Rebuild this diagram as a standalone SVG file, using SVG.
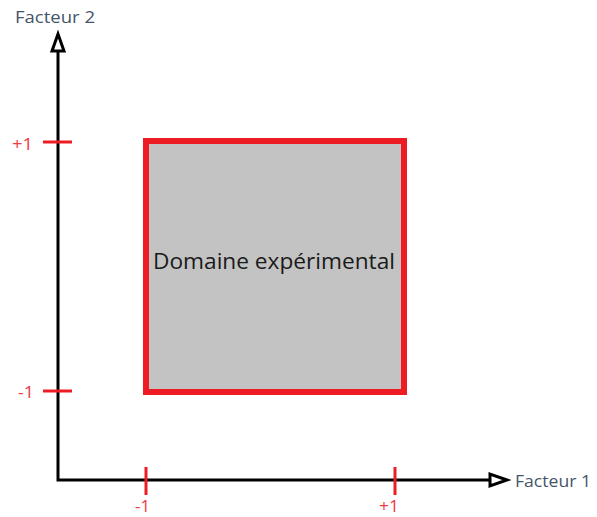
<svg xmlns="http://www.w3.org/2000/svg" width="597" height="517" viewBox="0 0 597 517">
<style>
.axis{stroke:#000;stroke-width:3;fill:none}
.head{stroke:#000;stroke-width:3;fill:#fff;stroke-linejoin:miter}
.tick{stroke:#ED1C24;stroke-width:3}
.lbl{font-family:"Open Sans","Liberation Sans",sans-serif;font-size:16px;fill:#EE3A46}
.ax{font-family:"Open Sans","Liberation Sans",sans-serif;font-size:16px;fill:#44546A}
</style>
<rect width="597" height="517" fill="#fff"/>
<g id="domain">
<rect x="146" y="141" width="258" height="251" fill="#C3C3C3" stroke="#ED1C24" stroke-width="6"/>
<text x="153" y="269" font-family="Open Sans, Liberation Sans, sans-serif" font-size="22" fill="#1a1a1a" textLength="242" lengthAdjust="spacingAndGlyphs">Domaine expérimental</text>
</g>
<g id="connectors">
<polyline class="axis" points="58,40 58,480 500,480"/>
<polygon class="head" points="58,34 52,51 64,51"/>
<polygon class="head" points="507,480 490,474 490,486"/>
</g>
<g id="ticks">
<line class="tick" x1="43" y1="142" x2="72" y2="142"/>
<line class="tick" x1="43" y1="391" x2="72" y2="391"/>
<line class="tick" x1="146" y1="467" x2="146" y2="495"/>
<line class="tick" x1="395" y1="467" x2="395" y2="495"/>
</g>
<g id="labels">
<text class="ax" x="15" y="23" textLength="80" lengthAdjust="spacingAndGlyphs">Facteur 2</text>
<text class="ax" x="515" y="487" textLength="76" lengthAdjust="spacingAndGlyphs">Facteur 1</text>
<text class="lbl" x="12" y="150" textLength="21" lengthAdjust="spacingAndGlyphs">+1</text>
<text class="lbl" x="18" y="398" textLength="16" lengthAdjust="spacingAndGlyphs">-1</text>
<text class="lbl" x="135" y="512" textLength="15" lengthAdjust="spacingAndGlyphs">-1</text>
<text class="lbl" x="379" y="512" textLength="20" lengthAdjust="spacingAndGlyphs">+1</text>
</g>
</svg>
